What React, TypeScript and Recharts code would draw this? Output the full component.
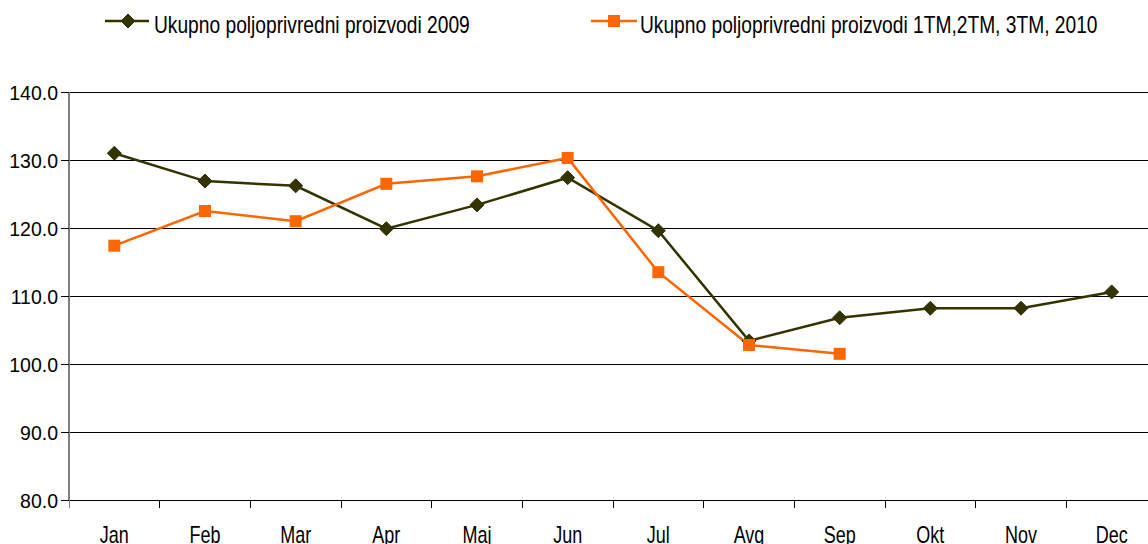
import { LineChart, Line, XAxis, YAxis, CartesianGrid } from "recharts"

const months = ["Jan", "Feb", "Mar", "Apr", "Maj", "Jun", "Jul", "Avg", "Sep", "Okt", "Nov", "Dec"]
const series2009 = [131.0, 126.9, 126.2, 119.9, 123.4, 127.4, 119.6, 103.4, 106.8, 108.2, 108.2, 110.6]
const series2010 = [117.4, 122.5, 121.0, 126.5, 127.6, 130.3, 113.5, 102.8, 101.5]
const yTicks = [80, 90, 100, 110, 120, 130, 140]
const xBounds = [0, 1, 2, 3, 4, 5, 6, 7, 8, 9, 10, 11, 12]

const name2009 = "Ukupno poljoprivredni proizvodi 2009"
const name2010 = "Ukupno poljoprivredni proizvodi 1TM,2TM, 3TM, 2010"

const DARK = "#333300"
const ORANGE = "#FF6600"
const FONT = "'Liberation Sans', Arial, sans-serif"

const data = months.map((m, i) => ({
  x: i + 0.5,
  month: m,
  v2009: series2009[i],
  v2010: i < series2010.length ? series2010[i] : null,
}))

const W = 1160
const H = 544
const margin = { top: 92, right: 3, left: 0, bottom: 0 }
const yAxisW = 69
const xAxisH = 44
const band = (W - margin.left - margin.right - yAxisW) / 12

// text that is a bit taller than wide, like the original
function TallText({ x, y, sy, size, anchor, children }: any) {
  return (
    <text
      transform={`translate(${x},${y}) scale(1,${sy})`}
      x={0}
      y={0}
      textAnchor={anchor}
      fontSize={size}
      fontFamily={FONT}
      fill="#000"
    >
      {children}
    </text>
  )
}

function Diamond(props: any) {
  const { cx, cy } = props
  if (cx == null || cy == null) return null
  const r = 7
  return <path d={`M${cx},${cy - r}L${cx + r},${cy}L${cx},${cy + r}L${cx - r},${cy}Z`} fill={DARK} stroke={DARK} />
}

function Square(props: any) {
  const { cx, cy, value } = props
  if (cx == null || cy == null || value == null) return null
  const s = 6
  return <rect x={cx - s} y={cy - s} width={s * 2} height={s * 2} fill={ORANGE} />
}

function XTick(props: any) {
  const { x, y, index } = props
  return (
    <g>
      <line
        x1={x}
        y1={y - 8}
        x2={x}
        y2={y}
        stroke={index === 0 ? "#808080" : "#000"}
        strokeWidth={1}
        shapeRendering="crispEdges"
      />
      {index < 12 && (
        <TallText x={x + band / 2} y={y + 35} sy={1.3} size={18} anchor="middle">
          {months[index]}
        </TallText>
      )}
    </g>
  )
}

function YTick(props: any) {
  const { x, y, payload } = props
  return (
    <g>
      <line x1={x} y1={y} x2={x + 8} y2={y} stroke="#000" shapeRendering="crispEdges" />
      <TallText x={x - 3} y={y + 8} sy={1} size={19.5} anchor="end">
        {payload.value.toFixed(1)}
      </TallText>
    </g>
  )
}

function LegendBar() {
  return (
    <svg width={W} height={50} style={{ position: "absolute", left: 0, top: 0 }}>
      <line x1={105} y1={21} x2={149} y2={21} stroke={DARK} strokeWidth={2.5} />
      <Diamond cx={128} cy={21} />
      <TallText x={154} y={33} sy={1.25} size={19.2} anchor="start">
        {name2009}
      </TallText>
      <line x1={591} y1={21} x2={637} y2={21} stroke={ORANGE} strokeWidth={2.5} />
      <Square cx={614} cy={21} value={1} />
      <TallText x={640} y={33} sy={1.25} size={19.2} anchor="start">
        {name2010}
      </TallText>
    </svg>
  )
}

export default function App() {
  return (
    <div style={{ position: "absolute", left: 0, top: 0, width: 1148, height: H, overflow: "hidden", background: "#fff" }}>
      <LegendBar />
      <div style={{ position: "absolute", left: 0, top: 0 }}>
        <LineChart width={W} height={H} data={data} margin={margin}>
          <CartesianGrid horizontal vertical={false} stroke="#000" strokeWidth={1} shapeRendering="crispEdges" />
          <XAxis
            dataKey="x"
            type="number"
            domain={[0, 12]}
            ticks={xBounds}
            interval={0}
            height={xAxisH}
            axisLine={{ stroke: "#000", shapeRendering: "crispEdges" }}
            tickLine={false}
            tick={<XTick />}
          />
          <YAxis
            type="number"
            domain={[80, 140]}
            ticks={yTicks}
            interval={0}
            width={yAxisW}
            axisLine={{ stroke: "#808080", strokeWidth: 2 }}
            tickLine={false}
            tick={<YTick />}
          />
          <Line
            dataKey="v2009"
            stroke={DARK}
            strokeWidth={2.5}
            dot={<Diamond />}
            activeDot={false}
            isAnimationActive={false}
          />
          <Line
            dataKey="v2010"
            stroke={ORANGE}
            strokeWidth={2.5}
            dot={<Square />}
            activeDot={false}
            connectNulls={false}
            isAnimationActive={false}
          />
        </LineChart>
      </div>
    </div>
  )
}
